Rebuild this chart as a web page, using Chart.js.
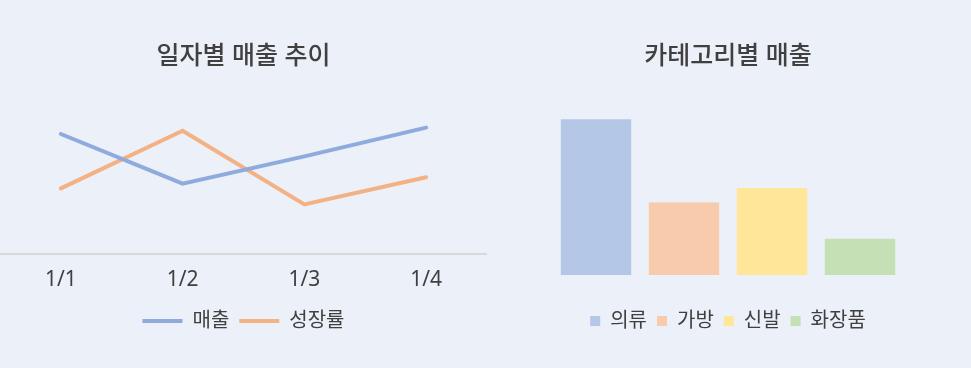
<!DOCTYPE html>
<html><head><meta charset="utf-8">
<script src="https://cdn.jsdelivr.net/npm/chart.js@4"></script>
<style>
html,body{margin:0;padding:0;background:#EBF0F9;width:971px;height:368px;overflow:hidden}
.box{position:absolute;top:0;height:368px}
</style></head><body>
<div class="box" style="left:0;width:487px"><canvas id="c1"></canvas></div>
<div class="box" style="left:490px;width:481px"><canvas id="c2"></canvas></div>
<script>
const dates = ['1/1','1/2','1/3','1/4'];
const sales = [75, 44, 61, 79];
const growth = [41, 77, 31, 48];
const categories = ['의류','가방','신발','화장품'];
const categorySales = [43, 20, 24, 10];
const lineColors = ['#8FAADC','#F4B183'];
const barColors = ['#B4C7E7','#F8CBAD','#FFE699','#C5E0B4'];

const FONT = "'Noto Sans','Noto Sans CJK KR',sans-serif";
const TXT = '#404040';
Chart.defaults.font.family = FONT;
Chart.defaults.color = TXT;

const titleOpts = (text) => ({ display: true, text, font: { size: 25, weight: 500 }, color: TXT, padding: { top: 42, bottom: 22 } });

new Chart(document.getElementById('c1'), {
  type: 'line',
  data: { labels: dates, datasets: [
    { label: '매출', data: sales, borderColor: lineColors[0], backgroundColor: lineColors[0], borderWidth: 4, pointRadius: 0, borderCapStyle: 'round', tension: 0 },
    { label: '성장률', data: growth, borderColor: lineColors[1], backgroundColor: lineColors[1], borderWidth: 4, pointRadius: 0, borderCapStyle: 'round', tension: 0 }
  ]},
  options: {
    responsive: true, maintainAspectRatio: false, animation: false,
    layout: { padding: { left: 0, right: 0, top: 0, bottom: 27 } },
    plugins: {
      title: titleOpts('일자별 매출 추이'),
      legend: { position: 'bottom', labels: { usePointStyle: true, pointStyle: 'line', pointStyleWidth: 40, font: { size: 20 }, color: TXT, padding: 10 } },
      tooltip: { enabled: false }
    },
    scales: {
      x: { offset: true, grid: { display: false, drawTicks: false, tickLength: 0 }, border: { display: true, color: '#D9D9D9', width: 2 },
           ticks: { font: { size: 21 }, color: TXT, padding: 13 }, afterFit: (s) => { s.height = 47; } },
      y: { display: false, min: 0, max: 100 }
    }
  }
});

new Chart(document.getElementById('c2'), {
  type: 'bar',
  data: { labels: categories, datasets: [
    { label: '카테고리별 매출', data: categorySales, backgroundColor: barColors, barPercentage: 0.8, categoryPercentage: 1.0 }
  ]},
  options: {
    responsive: true, maintainAspectRatio: false, animation: false,
    layout: { padding: { left: 62, right: 67, top: 0, bottom: 27 } },
    plugins: {
      title: titleOpts('카테고리별 매출'),
      legend: { position: 'bottom', labels: {
        boxWidth: 10, boxHeight: 10, font: { size: 20 }, color: TXT, padding: 10,
        generateLabels: (chart) => chart.data.labels.map((l, i) => ({ text: l, fillStyle: barColors[i], strokeStyle: barColors[i], lineWidth: 0, hidden: false, index: i, fontColor: TXT }))
      }, onClick: () => {} },
      tooltip: { enabled: false }
    },
    scales: {
      x: { display: true, grid: { display: false, drawTicks: false, tickLength: 0 }, border: { display: false }, ticks: { display: false }, afterFit: (s) => { s.height = 26; } },
      y: { display: false, min: 0, max: 50 }
    }
  }
});
</script>
</body></html>
